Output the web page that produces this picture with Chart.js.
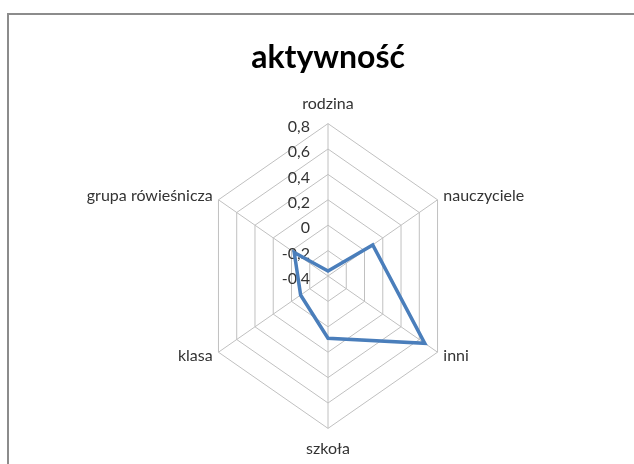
<!DOCTYPE html>
<html>
<head>
<meta charset="utf-8">
<script src="https://cdn.jsdelivr.net/npm/chart.js@4/dist/chart.umd.min.js"></script>
<style>
  html, body { margin: 0; padding: 0; background: #fff; overflow: hidden; }
  #wrap { position: relative; width: 634px; height: 464px; }
  #frame {
    position: absolute; left: 7px; top: 13px; width: 700px; height: 500px;
    border-left: 2px solid #8c8c8c; border-top: 2px solid #8c8c8c;
    pointer-events: none;
  }
</style>
</head>
<body>
<div id="wrap">
  <canvas id="activityRadar"></canvas>
  <div id="frame"></div>
</div>
<script>
// Chart data
const categories = ["rodzina", "nauczyciele", "inni", "szkoła", "klasa", "grupa rówieśnicza"];
const activityValues = [-0.36, 0.09, 0.66, 0.09, -0.10, -0.03];
const axisRange = [-0.4, 0.8];
const axisStep = 0.2;

// Excel draws the radar a bit narrower than it is tall
const X_SQUISH = 0.83;

const { RadialLinearScale, helpers } = Chart;

class SquashedRadialScale extends RadialLinearScale {
  getPointPosition(index, distance, additionalAngle = 0) {
    const p = super.getPointPosition(index, distance, additionalAngle);
    return { x: this.xCenter + (p.x - this.xCenter) * X_SQUISH, y: p.y, angle: p.angle };
  }

  fit() {
    super.fit();
    // move category labels next to the hexagon corners
    const font = helpers.toFont(this.options.pointLabels.font);
    (this._pointLabelItems || []).forEach((item, i) => {
      const p = this.getPointPosition(i, this.drawingArea + 8);
      const dx = p.x - this.xCenter;
      let cy = p.y;
      let align = "center";
      if (Math.abs(dx) < 1) {
        cy += p.y < this.yCenter ? -12 : 12;
      } else {
        align = dx > 0 ? "left" : "right";
      }
      item.x = p.x;
      item.y = cy - font.lineHeight / 2;
      item.textAlign = align;
    });
  }

  // tick labels sit left of the vertical axis, right aligned
  drawLabels() {
    const ctx = this.ctx;
    const tickOpts = this.options.ticks;
    if (!tickOpts.display) return;
    const font = helpers.toFont(tickOpts.font);
    ctx.save();
    ctx.font = font.string;
    ctx.fillStyle = tickOpts.color;
    ctx.textAlign = "right";
    ctx.textBaseline = "middle";
    this.ticks.forEach((tick) => {
      const offset = this.getDistanceFromCenterForValue(tick.value);
      ctx.fillText(tick.label, this.xCenter - 18, this.yCenter - offset + 3);
    });
    ctx.restore();
  }
}
SquashedRadialScale.id = "squashedRadial";
SquashedRadialScale.defaults = RadialLinearScale.defaults;
Chart.register(SquashedRadialScale);

const ctx = document.getElementById("activityRadar").getContext("2d");

new Chart(ctx, {
  type: "radar",
  data: {
    labels: categories,
    datasets: [
      {
        label: "aktywność",
        data: activityValues,
        borderColor: "#4a7ebb",
        borderWidth: 3.5,
        backgroundColor: "rgba(0,0,0,0)",
        fill: false,
        pointRadius: 0,
        tension: 0,
      },
    ],
  },
  options: {
    responsive: true,
    maintainAspectRatio: false,
    animation: false,
    layout: {
      padding: { left: 22, right: 0, top: 0, bottom: 8 },
    },
    plugins: {
      legend: { display: false },
      tooltip: { enabled: false },
      title: {
        display: true,
        text: "aktywność",
        color: "#000",
        font: { family: "Lato", size: 32, weight: "bold", lineHeight: 1.2 },
        padding: { top: 38, bottom: 20 },
      },
    },
    scales: {
      r: {
        type: "squashedRadial",
        min: axisRange[0],
        max: axisRange[1],
        beginAtZero: false,
        grid: { color: "#c0c0c0", lineWidth: 1 },
        angleLines: { color: "#c0c0c0", lineWidth: 1 },
        pointLabels: {
          color: "#333",
          padding: 0,
          font: { family: "Lato", size: 16, lineHeight: 1.2 },
        },
        ticks: {
          stepSize: axisStep,
          showLabelBackdrop: false,
          backdropPadding: 0,
          color: "#333",
          font: { family: "Lato", size: 16 },
          callback: (v) => String(Math.round(v * 10) / 10).replace(".", ","),
        },
      },
    },
  },
});
</script>
</body>
</html>
